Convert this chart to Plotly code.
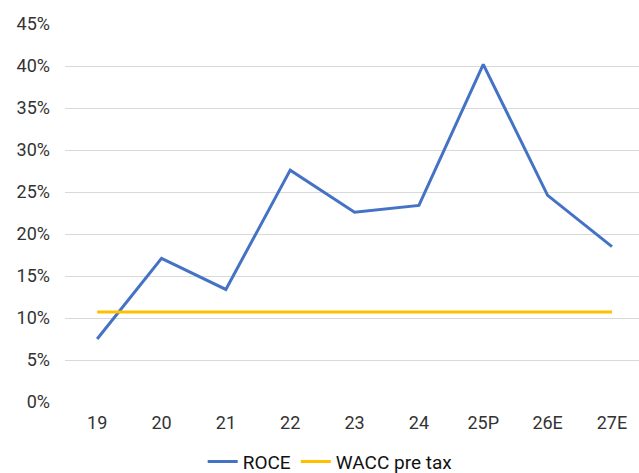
import plotly.graph_objects as go

categories = ["19", "20", "21", "22", "23", "24", "25P", "26E", "27E"]
roce = [7.5, 17.1, 13.4, 27.6, 22.6, 23.4, 40.2, 24.6, 18.5]
wacc = [10.7] * 9
y_ticks = [0, 5, 10, 15, 20, 25, 30, 35, 40, 45]
y_tick_labels = [f"{v}%" for v in y_ticks]

fig = go.Figure()
fig.add_trace(go.Scatter(x=categories, y=roce, mode="lines", name="ROCE",
                         line=dict(color="#4472C4", width=3)))
fig.add_trace(go.Scatter(x=categories, y=wacc, mode="lines", name="WACC pre tax",
                         line=dict(color="#FFC000", width=3)))

fig.update_layout(
    width=639, height=473,
    margin=dict(l=65, r=0, t=24, b=71, autoexpand=False),
    paper_bgcolor="white", plot_bgcolor="white",
    font=dict(family="Roboto", size=18, color="#333333"),
    xaxis=dict(type="category", range=[-0.5, 8.42], showgrid=False,
               showline=False, zeroline=False, ticks="", ticklabelstandoff=8,
               automargin=False),
    yaxis=dict(range=[0, 45], tickvals=y_ticks, ticktext=y_tick_labels,
               showgrid=True, gridcolor="#d9d9d9", gridwidth=1,
               zeroline=False, showline=False, ticks="", ticklabelstandoff=14,
               automargin=False),
    legend=dict(orientation="h", x=0.462, xanchor="center", y=-0.158,
                yanchor="middle", font=dict(size=19, color="#111111"),
                itemwidth=30, tracegroupgap=0),
    showlegend=True,
)

fig.write_html("out.html", config={"displayModeBar": False},
               post_script="document.body.style.margin='0';document.body.style.overflow='hidden';")
